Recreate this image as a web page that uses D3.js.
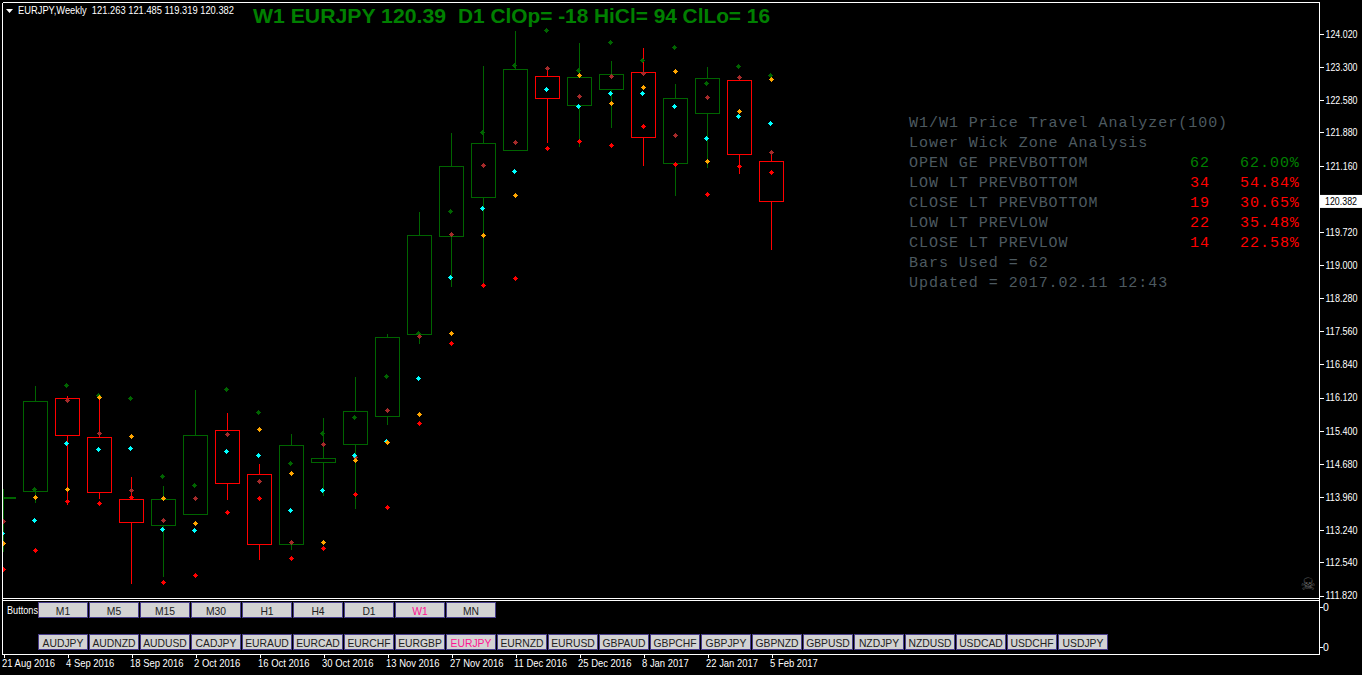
<!DOCTYPE html>
<html><head><meta charset="utf-8">
<script src="https://cdn.jsdelivr.net/npm/d3@7"></script>
<style>html,body{margin:0;padding:0;background:#000;overflow:hidden}svg{display:block}
text{font-family:"Liberation Sans",sans-serif}
</style></head><body><svg id="c" width="1362" height="675"></svg>
<script>
// ---- data ----
const high  = [114.133,116.371,116.154,116.139,114.394,114.198,116.284,115.784,114.676,115.328,115.676,116.567,117.501,120.152,121.862,123.325,124.085,123.281,123.825,123.433,123.716,122.934,123.303,123.079,121.485];
const open  = [113.944,114.096,116.104,115.256,113.909,113.357,113.596,115.408,114.452,112.944,114.726,115.117,115.726,117.495,119.624,120.485,121.506,123.101,122.484,122.832,123.188,121.224,122.310,123.014,121.263];
const close = [113.966,116.039,115.313,114.074,113.422,113.909,115.300,114.270,112.944,115.083,114.800,115.822,117.429,119.646,121.152,121.645,123.253,122.636,123.079,123.144,121.788,122.623,123.058,121.419,120.382];
const low   = [112.764,113.835,113.792,113.909,112.069,112.227,113.596,113.894,112.590,112.807,113.981,113.698,115.524,117.284,118.522,118.566,121.506,121.652,121.571,121.978,121.158,120.500,121.115,120.978,119.319];
const dotGreen  = [null,114.139,116.386,116.169,116.104,114.409,114.213,116.300,115.800,114.691,115.343,115.691,116.582,117.516,120.168,121.884,123.340,124.101,123.231,123.840,123.449,123.731,122.949,123.318,123.136];
const dotBrown  = [113.438,113.959,116.067,115.343,114.105,113.453,113.931,115.322,114.300,112.975,115.104,114.828,115.843,117.451,119.668,121.167,121.667,123.275,122.666,123.101,123.166,121.819,122.645,123.079,121.450];
const dotCyan   = [113.177,113.466,115.126,114.996,115.017,113.257,113.236,114.952,114.865,113.670,114.105,114.865,115.170,116.539,118.733,120.233,121.037,122.818,122.449,122.732,122.732,122.449,121.754,122.232,122.080];
const dotOrange = [112.960,113.953,114.127,116.132,115.278,113.931,113.388,null,115.430,114.474,112.975,114.757,115.148,115.756,117.516,119.646,120.515,null,123.123,122.514,122.862,123.210,121.254,122.340,123.036];
const dotRed    = [112.395,112.801,113.866,113.822,113.953,112.106,112.258,113.627,113.931,112.627,112.844,114.018,113.735,115.561,117.312,118.559,118.712,121.536,121.689,121.602,122.015,121.189,120.537,121.145,121.015];
const priceTicks = [124.020,123.300,122.580,121.880,121.160,119.720,119.000,118.280,117.560,116.840,116.120,115.400,114.680,113.960,113.240,112.540,111.820];
const lastPrice = 120.382;
const dateLabels = ["21 Aug 2016","4 Sep 2016","18 Sep 2016","2 Oct 2016","16 Oct 2016","30 Oct 2016","13 Nov 2016","27 Nov 2016","11 Dec 2016","25 Dec 2016","8 Jan 2017","22 Jan 2017","5 Feb 2017"];
const timeframes = ["M1","M5","M15","M30","H1","H4","D1","W1","MN"];
const symbols = ["AUDJPY","AUDNZD","AUDUSD","CADJPY","EURAUD","EURCAD","EURCHF","EURGBP","EURJPY","EURNZD","EURUSD","GBPAUD","GBPCHF","GBPJPY","GBPNZD","GBPUSD","NZDJPY","NZDUSD","USDCAD","USDCHF","USDJPY"];
const panelHead = ["W1/W1 Price Travel Analyzer(100)","Lower Wick Zone Analysis"];
const panelNames = ["OPEN GE PREVBOTTOM","LOW LT PREVBOTTOM","CLOSE LT PREVBOTTOM","LOW LT PREVLOW","CLOSE LT PREVLOW"];
const panelCounts = ["62","34","19","22","14"];
const panelPcts = ["62.00%","54.84%","30.65%","35.48%","22.58%"];
const panelFoot = ["Bars Used = 62","Updated = 2017.02.11 12:43"];
const titleLeft = "W1 EURJPY 120.39";
const titleRight = "D1 ClOp= -18 HiCl= 94 ClLo= 16";
const infoText = "EURJPY,Weekly\u00a0\u00a0121.263 121.485 119.319 120.382";

// ---- scales ----
const svg = d3.select("#c");
const x = d3.scaleLinear().domain([0,24]).range([3.5,771.5]);
const y = d3.scaleLinear().domain([111.82,124.02]).range([595.5,34]);
const UP="#006400", DOWN="#ff0000", W="#ffffff";
const bars = d3.range(high.length);
const colr = i => close[i] >= open[i] ? UP : DOWN;
// squeeze text horizontally to the narrow look of the terminal font
const narrow = (sel,f) => sel.each(function(){ const n=this.getComputedTextLength();
  d3.select(this).attr("textLength",n*f).attr("lengthAdjust","spacingAndGlyphs"); });

svg.append("clipPath").attr("id","plot").append("rect").attr("x",3).attr("y",3).attr("width",1316).attr("height",595);
const plot = svg.append("g").attr("clip-path","url(#plot)");

// candles
const top_ = i => Math.round(y(Math.max(open[i],close[i])));
const bot_ = i => Math.round(y(Math.min(open[i],close[i])));
const candle = plot.selectAll("g.c").data(bars).join("g").attr("class","c").attr("shape-rendering","crispEdges");
candle.append("line").attr("x1",x).attr("x2",x).attr("y1",i=>y(high[i])).attr("y2",i=>y(low[i])).attr("stroke",colr);
candle.append("rect").attr("x",i=>x(i)-12).attr("width",24)
  .attr("y",i=>top_(i)+0.5)
  .attr("height",i=>Math.max(1,bot_(i)-top_(i)))
  .attr("fill","#000").attr("stroke",colr);

// dots: 5px pixel diamonds
const diamond = "M-.5,-2.5h1v1h1v1h1v1h-1v1h-1v1h-1v-1h-1v-1h-1v-1h1v-1h1z";
[[dotGreen,"#006400",-1],[dotBrown,"#a52a2a",0],[dotCyan,"#00ffff",-1],[dotOrange,"#ffa500",0],[dotRed,"#ff0000",0]].forEach(([s,col,dx])=>{
  plot.append("g").selectAll("path").data(bars.filter(i=>s[i]!==null)).join("path")
    .attr("d",diamond).attr("fill",col).attr("shape-rendering","crispEdges")
    .attr("transform",i=>`translate(${x(i)+dx},${Math.round(y(s[i]))+0.5})`);
});

// frames
const frame=(a,b,c,d)=>svg.append("line").attr("x1",a).attr("y1",b).attr("x2",c).attr("y2",d).attr("stroke",W).attr("shape-rendering","crispEdges");
frame(2.5,2.5,1319.5,2.5); frame(2.5,2.5,2.5,654.5); frame(1319.5,2.5,1319.5,654.5);
frame(2.5,598.5,1319.5,598.5); frame(2.5,600.5,1319.5,600.5); frame(2.5,654.5,1319.5,654.5);

// price axis
const ya = svg.append("g").attr("transform","translate(1319.5,0)").call(d3.axisRight(y).tickValues(priceTicks).tickFormat(d3.format(".3f")).tickSize(4).tickPadding(2));
ya.select(".domain").remove();
ya.selectAll("line").attr("stroke",W).attr("shape-rendering","crispEdges");
ya.selectAll("text").attr("fill",W).style("font-size","10.5px").style("font-family",'"Liberation Sans"').attr("textLength",32).attr("lengthAdjust","spacingAndGlyphs");
svg.append("rect").attr("x",1320).attr("y",y(lastPrice)-6.5).attr("width",42).attr("height",13).attr("fill",W);
svg.append("text").attr("x",1325).attr("y",y(lastPrice)+3.5).text(d3.format(".3f")(lastPrice)).attr("fill","#000").style("font-size","10.5px").attr("textLength",32).attr("lengthAdjust","spacingAndGlyphs");

// subwindow axis
[607,647].forEach(v=>{ frame(1319.5,v+.5,1323,v+.5);
  svg.append("text").attr("x",1323).attr("y",v+4).text("0").attr("fill",W).style("font-size","10.5px"); });

// time axis
const tickIdx = dateLabels.map((d,i)=>i*2);
const xa = svg.append("g").attr("transform","translate(0,654.5)").call(d3.axisBottom(x).tickValues(tickIdx).tickFormat(i=>dateLabels[i/2]).tickSize(3).tickPadding(2));
xa.select(".domain").remove();
xa.selectAll("line").attr("stroke",W).attr("shape-rendering","crispEdges");
xa.selectAll("text").attr("fill",W).attr("text-anchor","start").attr("dx",-2).style("font-size","10.5px").style("font-family",'"Liberation Sans"').call(narrow,0.9);

// title + info
const ttl=(t,px,len)=>svg.append("text").attr("x",px).attr("y",23).text(t).attr("fill","#008000").style("font-size","21px").style("font-weight","bold").attr("textLength",len).attr("lengthAdjust","spacingAndGlyphs");
ttl(titleLeft,253,193); ttl(titleRight,458,312);
svg.append("path").attr("d","M6,9h7l-3.5,4z").attr("fill",W);
svg.append("text").attr("x",18).attr("y",14).text(infoText).attr("fill",W).style("font-size","10.5px").attr("textLength",216).attr("lengthAdjust","spacingAndGlyphs");

// analyzer panel
const SL="#4d5a60", mono=s=>s.style("font-family",'"Liberation Mono"').style("font-size","15px").style("letter-spacing","0.97px");
const line=(t,px,py,col)=>mono(svg.append("text").attr("x",px).attr("y",py).text(t).attr("fill",col));
panelHead.forEach((t,i)=>line(t,909,127+i*20,SL));
panelNames.forEach((t,i)=>{ const py=167+i*20, col=i===0?"#008000":"#ff0000";
  line(t,909,py,SL); line(panelCounts[i],1190,py,col); line(panelPcts[i],1240,py,col); });
panelFoot.forEach((t,i)=>line(t,909,267+i*20,SL));

// skull
svg.append("text").attr("x",1308).attr("y",590).attr("text-anchor","middle").text("\u2620").attr("fill","#666").style("font-family",'"DejaVu Sans"').style("font-size","17px");

// buttons
svg.append("text").attr("x",7).attr("y",613.5).text("Buttons").attr("fill",W).style("font-size","10.5px").attr("textLength",31).attr("lengthAdjust","spacingAndGlyphs");
const bx = d3.scaleLinear().domain([0,1]).range([38.5,89.5]);
function btn(list,top,active){
  const g=svg.append("g").selectAll("g").data(list).join("g").attr("transform",(d,i)=>`translate(${bx(i)},${top})`);
  g.append("rect").attr("width",49).attr("height",15).attr("fill","#d3d3d3").attr("stroke","#483d8b").attr("shape-rendering","crispEdges");
  g.append("text").attr("x",24.5).attr("y",12).attr("text-anchor","middle").text(d=>d).attr("fill",d=>d===active?"#ff1493":"#222").style("font-size","11px").call(narrow,0.94);
}
btn(timeframes,602.5,"W1");
btn(symbols,634.5,"EURJPY");
</script></body></html>
